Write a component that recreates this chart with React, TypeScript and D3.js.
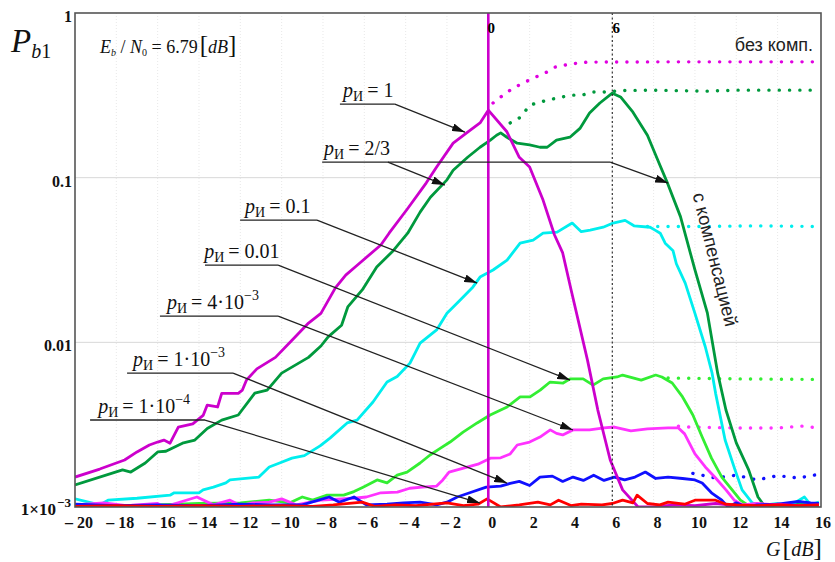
import React from 'react';
import * as d3 from 'd3';

// ---------- data (G [dB], P_b1) ----------
const xTicks = [-20, -18, -16, -14, -12, -10, -8, -6, -4, -2, 0, 2, 4, 6, 8, 10, 12, 14, 16];
const yTickValues = [1, 0.1, 0.01, 0.001];
const yTickLabels = ['1', '0.1', '0.01', '1×10'];

const pI1: [number, number][] = [[-20,1.52e-3],[-18.8,1.7e-3],[-17.6,1.93e-3],[-17.0,2.16e-3],[-16.4,2.38e-3],[-16.0,2.48e-3],[-15.7,2.55e-3],[-15.4,2.44e-3],[-15.0,3.06e-3],[-14.3,3.2e-3],[-13.8,3.6e-3],[-13.6,4.16e-3],[-13.1,4.05e-3],[-12.9,4.9e-3],[-12.1,4.9e-3],[-11.9,5.13e-3],[-11.7,5.9e-3],[-11.2,6.9e-3],[-10.3,8.1e-3],[-9.5,1.03e-2],[-8.7,1.31e-2],[-8.1,1.5e-2],[-7.4,2.14e-2],[-6.9,2.56e-2],[-6.4,2.9e-2],[-5.2,3.9e-2],[-4.8,4.6e-2],[-3.9,6.5e-2],[-3.0,9.3e-2],[-2.5,0.116],[-1.7,0.162],[-1.0,0.189],[-0.4,0.215],[0,0.257],[0.9,0.19],[1.5,0.133],[2.0,0.116],[2.65,0.0731],[3.2,0.045],[3.6,0.0349],[4.0,0.021],[4.8,7.8e-3],[5.3,3.88e-3],[5.9,1.93e-3],[6.5,1.27e-3],[7.25,1.0e-3],[8,1.0e-3],[9,1.03e-3],[10,1.02e-3],[11,1.05e-3],[12,1.02e-3],[13,1.01e-3],[14,1.04e-3],[15,1.02e-3],[16,1.03e-3]];

const pI23: [number, number][] = [[-20,1.36e-3],[-17.7,1.68e-3],[-17.3,1.63e-3],[-16.6,1.85e-3],[-16.0,2.16e-3],[-15.6,2.18e-3],[-14.8,2.44e-3],[-14.2,2.55e-3],[-13.6,3.0e-3],[-12.9,3.37e-3],[-12.1,3.62e-3],[-11.3,4.92e-3],[-10.7,5.13e-3],[-10.0,6.5e-3],[-8.7,8.1e-3],[-8.1,9.5e-3],[-7.75,1.08e-2],[-7.1,1.27e-2],[-6.8,1.64e-2],[-6.1,2.08e-2],[-5.4,2.87e-2],[-4.6,3.6e-2],[-3.9,4.6e-2],[-3.3,6.18e-2],[-2.8,7.6e-2],[-2.0,9.7e-2],[-1.7,0.111],[-1.0,0.133],[-0.4,0.153],[0.1,0.169],[0.4,0.181],[0.6,0.187],[0.9,0.176],[1.4,0.162],[2.0,0.158],[2.5,0.153],[2.85,0.153],[3.3,0.169],[3.95,0.176],[4.45,0.2],[4.9,0.247],[5.4,0.284],[6.0,0.326],[6.4,0.309],[7.0,0.25],[7.7,0.181],[8.2,0.128],[8.65,0.094],[9.3,0.058],[10.0,0.0275],[10.6,0.0151],[11.1,6.5e-3],[11.5,3.88e-3],[12.0,2.45e-3],[12.6,1.68e-3],[13.05,1.15e-3],[13.4,1.0e-3],[14,1.03e-3],[15,1.05e-3],[16,1.02e-3]];

const pI01: [number, number][] = [[-20,1.12e-3],[-18.8,1.03e-3],[-18.4,1.1e-3],[-17.0,1.13e-3],[-15.4,1.18e-3],[-15.2,1.22e-3],[-14.0,1.22e-3],[-13.8,1.27e-3],[-13.3,1.32e-3],[-12.7,1.4e-3],[-12.5,1.46e-3],[-11.1,1.52e-3],[-10.6,1.75e-3],[-10.1,1.85e-3],[-9.5,1.98e-3],[-8.9,2.05e-3],[-8.14,2.35e-3],[-7.66,2.62e-3],[-6.83,3.24e-3],[-6.35,3.37e-3],[-5.58,4.34e-3],[-4.9,5.74e-3],[-4.41,6.2e-3],[-3.79,7.48e-3],[-3.3,9.9e-3],[-2.5,1.19e-2],[-2.0,1.5e-2],[-1.37,1.8e-2],[-0.74,2.17e-2],[-0.4,2.49e-2],[0.23,2.75e-2],[0.91,3.16e-2],[1.54,4.0e-2],[2.17,4.18e-2],[2.65,4.6e-2],[3.33,4.67e-2],[4.06,5.3e-2],[4.5,4.7e-2],[4.93,4.8e-2],[5.56,5.0e-2],[6.04,5.3e-2],[6.62,5.5e-2],[7.05,5.1e-2],[7.83,5.0e-2],[8.07,4.8e-2],[8.32,4.6e-2],[8.56,4.0e-2],[8.94,3.6e-2],[9.1,3.0e-2],[9.53,2.29e-2],[10.0,1.5e-2],[10.5,9.4e-3],[10.83,6.5e-3],[11.0,4.9e-3],[11.46,2.55e-3],[11.94,1.68e-3],[12.28,1.27e-3],[12.77,1.06e-3],[13.2,1.02e-3],[14,1.05e-3],[14.6,1.02e-3],[15.3,1.15e-3],[15.6,1.03e-3],[16,1.07e-3]];

const pI001: [number, number][] = [[-20,1.03e-3],[-17,1.02e-3],[-14,1.05e-3],[-12,1.06e-3],[-10.6,1.1e-3],[-9.6,1.06e-3],[-9.0,1.15e-3],[-8.5,1.1e-3],[-7.8,1.18e-3],[-7.0,1.18e-3],[-6.5,1.24e-3],[-6.06,1.32e-3],[-5.38,1.46e-3],[-4.9,1.4e-3],[-4.41,1.56e-3],[-3.93,1.63e-3],[-3.3,1.85e-3],[-2.82,2.07e-3],[-2.33,2.27e-3],[-1.85,2.48e-3],[-1.22,2.85e-3],[-0.54,3.24e-3],[0.09,3.62e-3],[0.91,4.05e-3],[1.54,4.66e-3],[2.02,4.66e-3],[2.51,5.13e-3],[2.99,5.74e-3],[3.62,5.66e-3],[3.96,6.0e-3],[4.59,6.0e-3],[5.07,5.5e-3],[5.56,6.0e-3],[6.23,6.16e-3],[6.5,6.33e-3],[7.4,5.9e-3],[8.1,6.33e-3],[8.4,6.16e-3],[8.9,5.66e-3],[9.4,4.66e-3],[9.9,3.62e-3],[10.35,2.66e-3],[10.8,1.98e-3],[11.3,1.52e-3],[11.8,1.27e-3],[12.2,1.1e-3],[12.6,1.02e-3],[13.5,1.03e-3],[14.5,1.02e-3],[15.5,1.04e-3],[16,1.03e-3]];

const pI4e3: [number, number][] = [[-20,1.03e-3],[-18.6,1.06e-3],[-17.5,1.02e-3],[-16.0,1.05e-3],[-15.7,1.0e-3],[-14.1,1.15e-3],[-13.3,1.03e-3],[-12.5,1.1e-3],[-12.0,1.02e-3],[-11.4,1.06e-3],[-10.6,1.07e-3],[-10.0,1.12e-3],[-9.3,1.03e-3],[-8.1,1.1e-3],[-6.5,1.13e-3],[-5.9,1.15e-3],[-5.2,1.22e-3],[-4.4,1.23e-3],[-3.8,1.3e-3],[-3.2,1.32e-3],[-2.5,1.34e-3],[-2.2,1.46e-3],[-1.9,1.63e-3],[-1.2,1.72e-3],[-0.5,1.82e-3],[0.1,1.98e-3],[0.6,1.99e-3],[1.06,2.1e-3],[1.4,2.38e-3],[2.0,2.48e-3],[2.5,2.66e-3],[3.0,2.94e-3],[3.3,2.8e-3],[3.6,2.74e-3],[4.1,2.94e-3],[4.9,2.94e-3],[5.6,3.02e-3],[6.1,3.06e-3],[6.9,2.9e-3],[7.7,2.98e-3],[8.7,3.02e-3],[9.2,3.02e-3],[9.5,2.78e-3],[10.0,2.1e-3],[10.5,1.75e-3],[11.0,1.5e-3],[11.5,1.27e-3],[11.9,1.1e-3],[12.3,1.03e-3],[13,1.05e-3],[14,1.03e-3],[15,1.02e-3],[16,1.04e-3]];

const pI1e3: [number, number][] = [[-20,1.04e-3],[-18,1.02e-3],[-16,1.03e-3],[-14,1.02e-3],[-12,1.04e-3],[-10.6,1.03e-3],[-9.0,1.03e-3],[-7.7,1.15e-3],[-7.2,1.07e-3],[-6.5,1.15e-3],[-5.9,1.03e-3],[-4.9,1.04e-3],[-4.1,1.06e-3],[-3.3,1.07e-3],[-2.5,1.03e-3],[-2.0,1.07e-3],[-1.5,1.15e-3],[-0.9,1.22e-3],[-0.1,1.32e-3],[0.6,1.34e-3],[1.06,1.39e-3],[1.5,1.43e-3],[2.0,1.35e-3],[2.5,1.52e-3],[3.1,1.54e-3],[3.6,1.43e-3],[4.1,1.52e-3],[4.6,1.45e-3],[5.1,1.56e-3],[5.6,1.45e-3],[6.1,1.52e-3],[6.6,1.46e-3],[7.1,1.52e-3],[7.6,1.63e-3],[8.1,1.49e-3],[8.7,1.52e-3],[9.4,1.49e-3],[10.0,1.46e-3],[10.35,1.4e-3],[10.8,1.22e-3],[11.3,1.1e-3],[11.6,1.0e-3],[12,1.06e-3],[12.5,1.0e-3],[13,1.03e-3],[14,1.04e-3],[15,1.08e-3],[15.6,1.06e-3],[16,1.05e-3]];

const pI1e4: [number, number][] = [[-20,1.01e-3],[-18,1.02e-3],[-16,1.01e-3],[-14,1.02e-3],[-12,1.01e-3],[-10,1.02e-3],[-8.5,1.01e-3],[-7.5,1.03e-3],[-6.1,1.07e-3],[-5.5,1.01e-3],[-4.5,1.03e-3],[-3.5,1.02e-3],[-2.0,1.06e-3],[-1.2,1.02e-3],[-0.5,1.04e-3],[-0.06,1.12e-3],[0.6,1.0e-3],[1.5,1.03e-3],[2.4,1.07e-3],[3.0,1.03e-3],[3.4,1.1e-3],[4.0,1.02e-3],[4.5,1.04e-3],[5.5,1.03e-3],[6.0,1.05e-3],[6.5,1.1e-3],[7.0,1.06e-3],[7.2,1.18e-3],[7.7,1.05e-3],[8.3,1.03e-3],[8.7,1.07e-3],[9.5,1.04e-3],[10.0,1.1e-3],[11.0,1.1e-3],[11.5,1.04e-3],[12,1.03e-3],[13,1.02e-3],[14,1.03e-3],[15,1.02e-3],[16,1.03e-3]];

// without compensation (dotted)
const nc1: [number, number][] = [[0.23,0.284],[0.72,0.317],[1.2,0.35],[1.68,0.375],[2.17,0.402],[2.75,0.432],[3.23,0.469],[3.72,0.483],[4.3,0.496],[4.8,0.503],[8,0.505],[12,0.505],[16,0.505]];
const nc23: [number, number][] = [[1.06,0.215],[1.54,0.232],[2.02,0.276],[2.51,0.288],[3.1,0.3],[3.57,0.309],[4.06,0.317],[4.54,0.317],[5.07,0.331],[5.56,0.331],[6.5,0.338],[8,0.34],[10.5,0.335],[12,0.34],[16,0.34]];
const nc01: [number, number][] = [[7.7,0.0505],[10,0.0505],[13,0.051],[16,0.0505]];
const nc001: [number, number][] = [[8.7,6.07e-3],[12,6.0e-3],[16,5.95e-3]];
const nc4e3: [number, number][] = [[9.2,3.1e-3],[9.7,3.06e-3],[12,3.02e-3],[14,3.02e-3],[15.2,3.1e-3],[16,3.02e-3]];
const nc1e3: [number, number][] = [[9.9,1.6e-3],[11,1.5e-3],[12,1.56e-3],[13,1.46e-3],[14,1.55e-3],[15,1.5e-3],[16,1.58e-3]];

// annotation labels
const annValues = ['1', '2/3', '0.1', '0.01', '4·10', '1·10', '1·10'];
const annExps = ['', '', '', '', '−3', '−3', '−4'];

// ---------- styles / layout ----------
const W = 835, H = 562;
const L = 75, R = 821, T = 13, B = 507;
const C_P1 = '#CC00CC', C_P23 = '#00993D', C_CY = '#00EEEE', C_LG = '#33EE33', C_LM = '#FF33FF', C_BL = '#1010FF', C_RD = '#FF0000';

const x = d3.scaleLinear().domain([-20, 16.1]).range([L, R]);
const y = d3.scaleLog().domain([1e-3, 1]).range([B, T]).clamp(true);
const line = d3.line<[number, number]>().x(d => x(d[0])).y(d => y(d[1]));

const solids: { data: [number, number][]; color: string }[] = [
  { data: pI23, color: C_P23 },
  { data: pI01, color: C_CY },
  { data: pI001, color: C_LG },
  { data: pI4e3, color: C_LM },
  { data: pI1e3, color: C_BL },
  { data: pI1, color: C_P1 },
  { data: pI1e4, color: C_RD },
];
const dotted: { data: [number, number][]; color: string }[] = [
  { data: nc1, color: '#E000E0' },
  { data: nc23, color: '#00993D' },
  { data: nc01, color: C_CY },
  { data: nc001, color: C_LG },
  { data: nc4e3, color: C_LM },
  { data: nc1e3, color: C_BL },
];

// annotation geometry in data units
const annGeom: { tg: number; up: number; g0: number; g1: number; arrows: [number, number, number][] }[] = [
  { tg: -7.03, up: 0.2798, g0: -7.18, g1: -4.52, arrows: [[-4.52, -1.13, 0.189]] },
  { tg: -7.95, up: 0.1244, g0: -8.04, g1: 5.9, arrows: [[-4.86, -2.1, 0.0902], [5.9, 8.7, 0.0927]] },
  { tg: -11.77, up: 0.05526, g0: -12.01, g1: -8.29, arrows: [[-8.29, -0.54, 0.0229]] },
  { tg: -13.75, up: 0.02947, g0: -13.71, g1: -10.17, arrows: [[-10.17, 3.96, 5.9e-3]] },
  { tg: -15.55, up: 0.01444, g0: -15.89, g1: -10.17, arrows: [[-10.17, 4.1, 2.935e-3]] },
  { tg: -17.19, up: 6.51e-3, g0: -17.48, g1: -12.35, arrows: [[-12.35, 0.91, 1.398e-3]] },
  { tg: -18.88, up: 3.375e-3, g0: -19.27, g1: -13.71, arrows: [[-13.71, -0.4, 1.057e-3]] },
];

const SERIF = '"Liberation Serif", "Times New Roman", serif';
const SANS = '"Liberation Sans", Arial, sans-serif';

export default function App() {
  return (
    <svg width={W} height={H} viewBox={`0 0 ${W} ${H}`}
      style={{ position: 'absolute', left: 0, top: 0, background: '#fff' }}>
      <defs>
        <clipPath id="plot">
          <rect x={L} y={T - 2} width={R - L} height={B - T + 2} />
        </clipPath>
        <marker id="arr" viewBox="0 0 13 8" refX={13} refY={4} markerWidth={13} markerHeight={8}
          markerUnits="userSpaceOnUse" orient="auto">
          <path d="M0,0 L13,4 L0,8 Z" fill="#111" />
        </marker>
      </defs>
      <rect x={0} y={0} width={W} height={H} fill="#fff" />

      {/* grid */}
      {xTicks.filter(t => t > -20 && t < 16).map(t => (
        <line key={'gx' + t} x1={x(t)} x2={x(t)} y1={T} y2={B} stroke="#e8e8e8" strokeWidth={1} strokeDasharray="1 2" />
      ))}
      {[0.1, 0.01].map(v => (
        <line key={'gy' + v} x1={L} x2={R} y1={y(v)} y2={y(v)} stroke="#d8d8d8" strokeWidth={1} />
      ))}

      {/* curves */}
      <g clipPath="url(#plot)" fill="none">
        {dotted.map((s, i) => (
          <path key={'d' + i} d={line(s.data) || ''} stroke={s.color} strokeWidth={3.4}
            strokeLinecap="round" strokeDasharray="0.1 10.2" />
        ))}
        {solids.map((s, i) => (
          <path key={'s' + i} d={line(s.data) || ''} stroke={s.color} strokeWidth={2.8}
            strokeLinejoin="round" />
        ))}
      </g>

      {/* markers at 0 and 6 dB */}
      <line x1={x(6)} x2={x(6)} y1={T} y2={B} stroke="#222" strokeWidth={1.1} strokeDasharray="2 2.5" />
      <line x1={x(0)} x2={x(0)} y1={T} y2={B} stroke={C_P1} strokeWidth={2.6} />
      <text x={x(0) + 3} y={33} fontFamily={SERIF} fontWeight="bold" fontSize={15} textAnchor="middle">0</text>
      <text x={x(6) + 4} y={33} fontFamily={SERIF} fontWeight="bold" fontSize={15} textAnchor="middle">6</text>

      {/* frame */}
      <rect x={L} y={T} width={R - L} height={B - T} fill="none" stroke="#555" strokeWidth={1.6} />

      {/* annotations */}
      {annGeom.map((a, i) => {
        const uy = y(a.up);
        return (
          <g key={'a' + i}>
            <line x1={x(a.g0)} x2={x(a.g1)} y1={uy} y2={uy} stroke="#222" strokeWidth={1.3} />
            {a.arrows.map((ar, j) => (
              <line key={j} x1={x(ar[0])} y1={uy} x2={x(ar[1])} y2={y(ar[2])} stroke="#222" strokeWidth={1.3}
                markerEnd="url(#arr)" />
            ))}
            <text x={x(a.tg)} y={uy - 7} fontFamily={SERIF} fontSize={20} fill="#111">
              <tspan fontStyle="italic">p</tspan>
              <tspan fontSize={14} dy={4}>И</tspan>
              <tspan dy={-4}>{'\u2009= ' + annValues[i]}</tspan>
              {annExps[i] ? <tspan fontSize={14} dy={-9}>{annExps[i]}</tspan> : null}
            </text>
          </g>
        );
      })}

      {/* y tick labels */}
      {yTickValues.map((v, i) => (
        <text key={'yt' + i} x={i === 3 ? 56 : 72} y={y(v) + (i === 3 ? 8 : 9)} fontFamily={SERIF} fontWeight="bold"
          fontSize={i === 3 ? 17 : 16} textAnchor="end" fill="#111">{yTickLabels[i]}</text>
      ))}
      <text x={57} y={y(0.001)} fontFamily={SERIF} fontWeight="bold" fontSize={13} fill="#111">−3</text>

      {/* x tick labels */}
      {xTicks.map(t => (
        <text key={'xt' + t} x={x(t) + 4} y={528} fontFamily={SERIF} fontWeight="bold" fontSize={16}
          textAnchor="middle" fill="#111">{t < 0 ? '– ' + Math.abs(t) : String(t)}</text>
      ))}

      {/* axis titles */}
      <text x={11} y={52} fontFamily={SERIF} fontSize={33} fontStyle="italic" fill="#111">P
        <tspan fontSize={20} dy={6}>b</tspan><tspan fontSize={20} fontStyle="normal">1</tspan>
      </text>
      <text x={766} y={556} fontFamily={SERIF} fontSize={20} fill="#111">
        <tspan fontStyle="italic">G</tspan><tspan fontSize={26} dx={2}>[</tspan><tspan fontStyle="italic">dB</tspan><tspan fontSize={26}>]</tspan>
      </text>
      <text x={100} y={53} fontFamily={SERIF} fontSize={18} fill="#111">
        <tspan fontStyle="italic">E</tspan><tspan fontSize={10} dy={3} fontStyle="italic">b</tspan>
        <tspan dy={-3}> / </tspan><tspan fontStyle="italic">N</tspan><tspan fontSize={10} dy={3}>0</tspan>
        <tspan dy={-3}> = 6.79</tspan><tspan fontSize={25} dx={2}>[</tspan><tspan fontStyle="italic">dB</tspan><tspan fontSize={25}>]</tspan>
      </text>

      {/* series group labels */}
      <text x={813} y={51} fontFamily={SANS} fontSize={18} textAnchor="end" fill="#222">без комп.</text>
      <text x={0} y={0} transform={`translate(709,261) rotate(76)`} fontFamily={SANS} fontSize={18.5}
        textAnchor="middle" fill="#222">с компенсацией</text>
    </svg>
  );
}
